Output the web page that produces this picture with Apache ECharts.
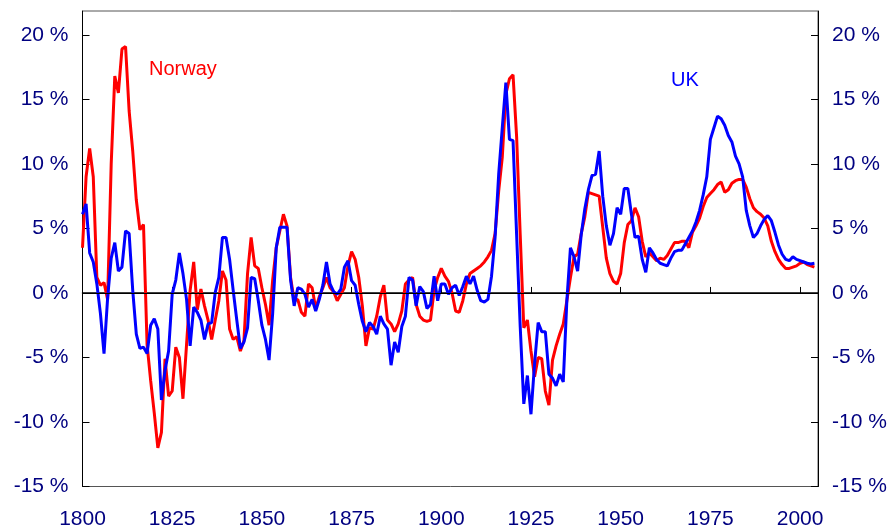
<!DOCTYPE html>
<html>
<head>
<meta charset="utf-8">
<script src="https://cdn.jsdelivr.net/npm/echarts@6/dist/echarts.min.js"></script>
<style>
html,body{margin:0;padding:0;background:#fff;}
#chart{width:891px;height:530px;}
</style>
</head>
<body>
<div id="chart"></div>
<script>
const START_YEAR = 1800;
const xTicks = [1800, 1825, 1850, 1875, 1900, 1925, 1950, 1975, 2000];
const yTicks = [-15, -10, -5, 0, 5, 10, 15, 20];

const norway = [
  3.5, 9.0, 11.2, 9.0, 1.2, 0.6, 0.8, -0.5, 10.0, 16.8,
  15.5, 18.9, 19.1, 14.1, 11.0, 7.2, 4.9, 5.3, -4.0, -6.8,
  -9.3, -12.0, -10.8, -5.1, -8.0, -7.6, -4.2, -5.0, -8.2, -4.0,
  0.2, 2.4, -1.3, 0.3, -1.0, -2.1, -3.6, -2.1, -0.6, 1.7,
  1.0, -2.8, -3.6, -3.4, -4.5, -3.7, 1.5, 4.3, 2.1, 1.9,
  0.4, -0.9, -2.5, 1.0, 3.5, 4.8, 6.1, 5.2, 1.2, -0.6,
  -0.5, -1.5, -1.8, 0.7, 0.4, -1.2, -0.3, 0.4, 1.2, 0.4,
  0.1, -0.6, -0.1, 0.4, 2.1, 3.2, 2.6, 1.2, -1.0, -4.1,
  -2.7, -2.8, -1.8, -0.3, 0.6, -2.1, -2.4, -3.0, -2.4, -1.4,
  0.7, 1.0, 1.2, -0.9, -1.8, -2.1, -2.2, -2.1, 0.2, 1.2,
  1.9, 1.3, 0.9, 0.0, -1.4, -1.5, -0.6, 0.7, 1.5, 1.7,
  1.9, 2.1, 2.4, 2.8, 3.3, 4.6, 7.9, 10.5, 15.4, 16.6,
  16.9, 12.1, 4.5, -2.7, -2.1, -4.5, -6.5, -5.0, -5.1, -7.6,
  -8.7, -5.2, -4.1, -3.2, -2.4, -0.6, 1.2, 2.8, 3.0, 4.6,
  5.9, 7.8, 7.7, 7.6, 7.5, 5.1, 2.7, 1.5, 0.9, 0.7,
  1.5, 3.9, 5.3, 5.6, 6.6, 5.9, 4.0, 2.8, 3.1, 2.8,
  2.5, 2.7, 2.6, 2.9, 3.4, 3.9, 3.9, 4.0, 4.0, 3.5,
  4.7, 5.2, 5.8, 6.7, 7.4, 7.7, 8.0, 8.4, 8.6, 7.8,
  8.0, 8.5, 8.7, 8.8, 8.8, 8.2, 7.3, 6.6, 6.3, 6.1,
  5.8, 5.2, 4.0, 3.2, 2.6, 2.2, 1.9, 1.9, 2.0, 2.1,
  2.3, 2.4, 2.2, 2.1, 2.0
];

const uk = [
  6.1, 6.9, 3.1, 2.4, 0.7, -1.6, -4.7, -0.4, 2.7, 3.9,
  1.7, 2.0, 4.8, 4.6, 0.2, -3.2, -4.3, -4.2, -4.7, -2.5,
  -2.0, -2.8, -8.3, -6.0, -4.5, -0.1, 1.0, 3.1, 1.5, -0.5,
  -4.1, -1.1, -1.5, -2.1, -3.6, -2.4, -2.3, 0.05, 1.2, 4.3,
  4.3, 2.6, 0.2, -2.1, -4.3, -3.8, -2.7, 1.2, 1.1, -0.6,
  -2.5, -3.6, -5.2, -1.6, 3.5, 5.1, 5.1, 5.1, 1.0, -1.0,
  0.4, 0.3, -0.1, -1.1, -0.5, -1.4, -0.5, 0.6, 2.4, 0.7,
  0.1, -0.1, 0.3, 2.0, 2.5, 0.95, 0.6, -0.9, -2.2, -3.0,
  -2.3, -2.6, -3.2, -1.8, -2.4, -2.8, -5.6, -3.8, -4.6, -2.6,
  -1.8, 1.2, 1.0, -1.0, 0.5, 0.1, -1.2, -0.9, 1.3, -0.6,
  0.7, 0.7, -0.1, 0.4, 0.6, -0.2, 0.5, 1.3, 0.7, 1.3,
  0.2, -0.6, -0.7, -0.5, 1.3, 4.3, 9.2, 12.8, 16.3, 11.9,
  11.8, 4.5, -2.6, -8.6, -6.4, -9.4, -5.5, -2.3, -3.0, -3.0,
  -6.3, -6.6, -7.2, -6.3, -6.9, -0.6, 3.5, 2.8, 1.7, 4.5,
  6.5, 8.0, 9.1, 9.2, 11.0, 7.5, 5.2, 3.7, 4.6, 6.6,
  6.1, 8.1, 8.1, 6.1, 4.3, 4.4, 2.6, 1.6, 3.5, 3.1,
  2.6, 2.3, 2.2, 2.1, 2.7, 3.2, 3.3, 3.3, 3.8, 4.3,
  4.8, 5.5, 6.4, 7.6, 9.0, 11.9, 12.8, 13.7, 13.5, 13.0,
  12.2, 11.7, 10.6, 10.0, 9.0, 6.4, 5.2, 4.3, 4.6, 5.2,
  5.7, 6.0, 5.6, 4.7, 3.7, 3.0, 2.6, 2.5, 2.8, 2.6,
  2.5, 2.4, 2.3, 2.25, 2.3
];

const seriesNames = ['Norway', 'UK'];
const seriesColors = ['#ff0000', '#0000ff'];

const pair = arr => arr.map((v, i) => [START_YEAR + i, v]);

const FONT = "'Liberation Sans', Arial, sans-serif";
const LABEL_COLOR = '#000080';

const yLabel = v => (yTicks.indexOf(v) >= 0 ? v + ' %' : '');
const xLabel = v => (xTicks.indexOf(v) >= 0 ? String(v) : '');

const yAxisBase = {
  type: 'value',
  min: -15,
  max: 21.85,
  interval: 5,
  splitLine: { show: false },
  axisLine: { show: true, lineStyle: { color: '#000', width: 1 } },
  axisTick: { show: true, inside: true, length: 7, lineStyle: { color: '#000' } },
  axisLabel: { formatter: yLabel, color: LABEL_COLOR, fontSize: 21, fontFamily: FONT, margin: 14, showMaxLabel: false }
};

const chart = echarts.init(document.getElementById('chart'), null, { renderer: 'canvas' });
chart.setOption({
  animation: false,
  backgroundColor: '#ffffff',
  grid: {
    left: 82.5, right: 73, top: 11, bottom: 43.5,
    show: true, borderColor: '#555', borderWidth: 1, backgroundColor: 'transparent'
  },
  xAxis: {
    type: 'value',
    min: 1800,
    max: 2005,
    interval: 25,
    splitLine: { show: false },
    axisLine: { show: true, lineStyle: { color: '#000', width: 1.5 } },
    axisTick: { show: true, inside: true, length: 6, lineStyle: { color: '#000' } },
    axisLabel: { formatter: xLabel, color: LABEL_COLOR, fontSize: 21, fontFamily: FONT, margin: 22, showMaxLabel: false }
  },
  yAxis: [
    Object.assign({}, yAxisBase, { position: 'left' }),
    Object.assign({}, yAxisBase, { position: 'right' })
  ],
  series: [
    {
      name: seriesNames[0],
      type: 'line',
      data: pair(norway),
      showSymbol: false,
      symbol: 'none',
      lineStyle: { color: seriesColors[0], width: 3 },
      itemStyle: { color: seriesColors[0] },
      z: 3,
      markLine: {
        silent: true,
        symbol: ['none', 'none'],
        label: { show: false },
        lineStyle: { color: '#000', width: 1, type: 'solid' },
        data: [{ yAxis: 0 }]
      }
    },
    {
      name: seriesNames[1],
      type: 'line',
      data: pair(uk),
      showSymbol: false,
      symbol: 'none',
      lineStyle: { color: seriesColors[1], width: 3 },
      itemStyle: { color: seriesColors[1] },
      z: 4
    }
  ],
  graphic: [
    { type: 'text', left: 149, top: 59, style: { text: seriesNames[0], fill: seriesColors[0], font: "20px 'Liberation Sans', Arial, sans-serif" } },
    { type: 'text', left: 671, top: 70, style: { text: seriesNames[1], fill: seriesColors[1], font: "20px 'Liberation Sans', Arial, sans-serif" } }
  ]
});
</script>
</body>
</html>
